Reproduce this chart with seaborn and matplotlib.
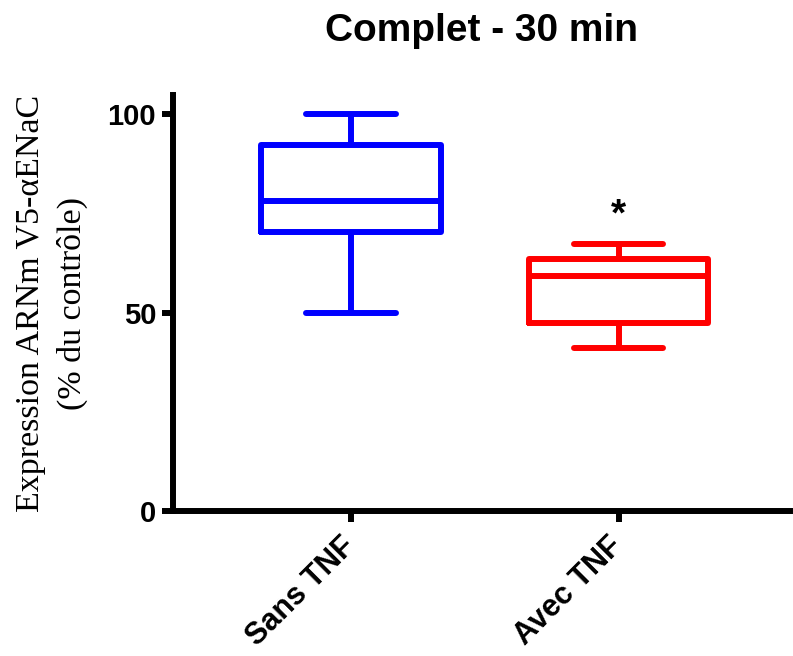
import matplotlib
matplotlib.use("Agg")
import matplotlib.pyplot as plt
import seaborn as sns
import pandas as pd

# Data (min, Q1, median, Q3, max)
categories = ["Sans TNF", "Avec TNF"]
sans_tnf = [50.0, 70.3, 78.1, 92.2, 100.0]
avec_tnf = [41.1, 47.4, 59.2, 63.5, 67.3]
colors = ["#0000FF", "#FF0000"]
yticks = [0, 50, 100]
title = "Complet - 30 min"
ylabel = "Expression ARNm V5-αENaC\n(% du contrôle)"
star_y = 74.5

df = pd.DataFrame({
    "group": [categories[0]] * len(sans_tnf) + [categories[1]] * len(avec_tnf),
    "value": sans_tnf + avec_tnf,
})

sns.set_style("ticks")
plt.rcParams["font.family"] = ["Liberation Sans", "DejaVu Sans"]
plt.rcParams["text.color"] = "black"
plt.rcParams["axes.labelcolor"] = "black"
plt.rcParams["axes.edgecolor"] = "black"
plt.rcParams["xtick.color"] = "black"
plt.rcParams["ytick.color"] = "black"

fig = plt.figure(figsize=(7.93, 6.56), dpi=100)
ax = fig.add_axes([0.218, 0.221, 0.778, 0.634])

sns.boxplot(data=df, x="group", y="value", hue="group", order=categories,
            hue_order=categories, palette=colors, fill=False, whis=(0, 100),
            width=0.67, linewidth=4.3, legend=False, ax=ax, dodge=False)

ax.set_xlim(-0.665, 1.64)
ax.set_ylim(0, 104.8)
ax.set_yticks(yticks)
ax.set_yticklabels([str(t) for t in yticks], fontsize=21, fontweight="bold")
ax.set_xticks(range(len(categories)))
ax.set_xticklabels(categories, fontsize=22, fontweight="bold", rotation=45,
                   ha="right", va="center", rotation_mode="anchor")
ax.set_xlabel("")
ax.set_ylabel(ylabel, fontsize=24.5, family=["Liberation Serif", "DejaVu Serif"],
              linespacing=1.45, labelpad=14)
ax.set_title(title, fontsize=28, fontweight="bold", pad=39)

for side in ["top", "right"]:
    ax.spines[side].set_visible(False)
for side in ["left", "bottom"]:
    ax.spines[side].set_linewidth(4.3)
ax.tick_params(axis="y", width=4.3, length=8, colors="black", pad=4)
ax.tick_params(axis="x", width=4.3, length=8, colors="black", pad=14)

ax.text(1, star_y, "*", ha="center", va="center", fontsize=28, fontweight="bold")

fig.savefig("out.png", dpi=100)
